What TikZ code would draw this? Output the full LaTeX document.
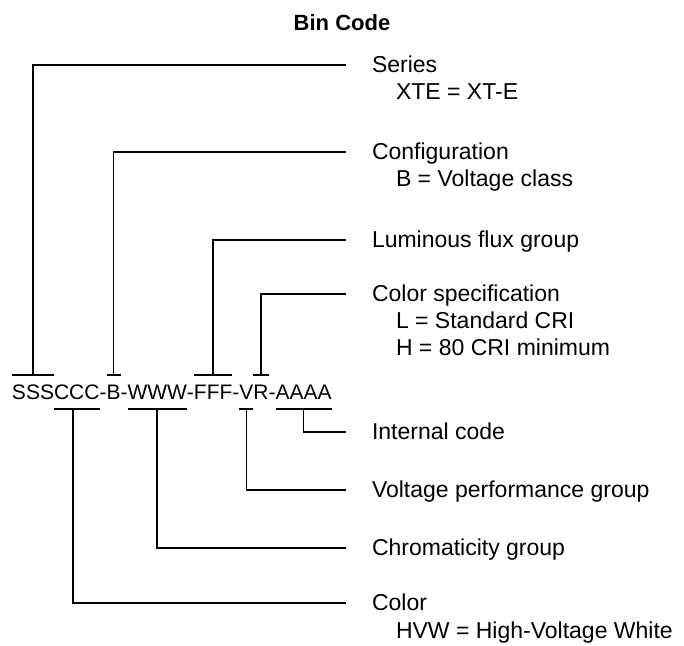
\documentclass[tikz,border=0pt]{standalone}
\usepackage{fontspec}
\setmainfont{Liberation Sans}
\begin{document}
\begin{tikzpicture}[x=1pt,y=-1pt,
  conn/.style={line width=1.7pt, line cap=butt},
  lead/.style={conn, shorten >=26pt},
  codeseg/.style={font=\fontsize{21}{25}\selectfont, inner xsep=0pt, inner ysep=9.7pt,
    text height=15pt, text depth=0pt, outer sep=0pt, anchor=base west},
  lab/.style={font=\fontsize{23}{27}\selectfont, inner sep=0pt, outer sep=0pt,
    text height=17pt, text depth=3pt, anchor=base west},
  ttl/.style={font=\fontsize{22}{26}\selectfont\bfseries, inner sep=0pt, anchor=base}]
\useasboundingbox (0,0) rectangle (684,645);

% title
\node[ttl] (title) at (342,30) {Bin Code};

% code segments
\node[codeseg] (sss) at (12,399.5) {SSS};
\node[codeseg] (ccc) at (sss.base east) {CCC};
\node[codeseg] (d1) at (ccc.base east) {-};
\node[codeseg] (bb) at (d1.base east) {B};
\node[codeseg] (d2) at (bb.base east) {-};
\node[codeseg] (www) at (d2.base east) {WWW};
\node[codeseg] (d3) at (www.base east) {-};
\node[codeseg] (fff) at (d3.base east) {FFF};
\node[codeseg] (d4) at (fff.base east) {-};
\node[codeseg] (vv) at (d4.base east) {V};
\node[codeseg] (rr) at (vv.base east) {R};
\node[codeseg] (d5) at (rr.base east) {-};
\node[codeseg] (aaaa) at (d5.base east) {AAAA};

% labels
\node[lab] (series) at (372,72) {Series};
\node[lab] (seriesv) at (396,99) {XTE = XT-E};
\node[lab] (config) at (372,159) {Configuration};
\node[lab] (configv) at (396,186) {B = Voltage class};
\node[lab] (lum) at (372,247) {Luminous flux group};
\node[lab] (cspec) at (372,301) {Color specification};
\node[lab] (cspecl) at (396,328) {L = Standard CRI};
\node[lab] (cspech) at (396,355) {H = 80 CRI minimum};
\node[lab] (internal) at (372,439) {Internal code};
\node[lab] (volt) at (372,497) {Voltage performance group};
\node[lab] (chrom) at (372,555) {Chromaticity group};
\node[lab] (color) at (372,610) {Color};
\node[lab] (colorv) at (396,638) {HVW = High-Voltage White};

% bars above
\draw[conn] (sss.north west) -- (sss.north east);
\draw[conn] (bb.north west) -- (bb.north east);
\draw[conn] (fff.north west) -- (fff.north east);
\draw[conn] (rr.north west) -- (rr.north east);
% bars below
\draw[conn] (ccc.south west) -- (ccc.south east);
\draw[conn] (www.south west) -- (www.south east);
\draw[conn] (vv.south west) -- (vv.south east);
\draw[conn] (aaaa.south west) -- (aaaa.south east);

% leaders
\draw[lead] (sss.north) |- (series.west);
\draw[lead] (bb.north) |- (config.west);
\draw[lead] (fff.north) |- (lum.west);
\draw[lead] (rr.north) |- (cspec.west);
\draw[lead] (aaaa.south) |- (internal.west);
\draw[lead] (vv.south) |- (volt.west);
\draw[lead] (www.south) |- (chrom.west);
\draw[lead] ([xshift=-4pt]ccc.south) |- (color.west);
\end{tikzpicture}
\end{document}
